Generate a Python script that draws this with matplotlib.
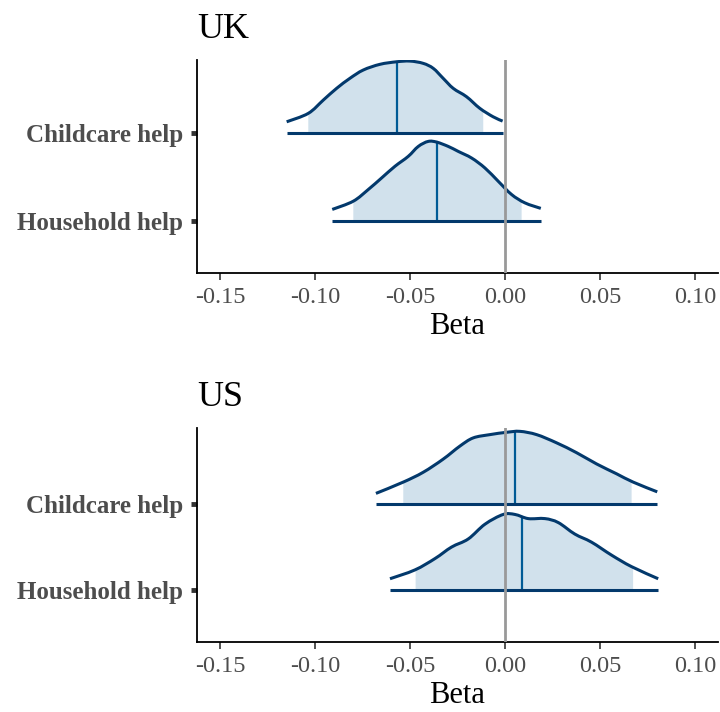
import numpy as np
import matplotlib.pyplot as plt
from matplotlib.path import Path
from matplotlib.patches import PathPatch

plt.rcParams['font.family'] = ['Liberation Serif', 'DejaVu Serif']

params = ["Household help", "Childcare help"]

# posterior density outlines (beta value, scaled density) per country / parameter
uk_child_x = [-0.1149, -0.1035, -0.0956, -0.0886, -0.0816, -0.0746, -0.0658, -0.0570, -0.0500,
              -0.0430, -0.0377, -0.0325, -0.0272, -0.0202, -0.0132, -0.0062, -0.0012]
uk_child_d = [0.128, 0.224, 0.375, 0.508, 0.622, 0.716, 0.781, 0.810, 0.818,
              0.792, 0.735, 0.622, 0.508, 0.413, 0.281, 0.185, 0.136]
uk_house_x = [-0.0909, -0.0798, -0.0719, -0.0649, -0.0579, -0.0509, -0.0456, -0.0404, -0.0359,
              -0.0298, -0.0246, -0.0175, -0.0105, -0.0035, 0.0035, 0.0105, 0.0189]
uk_house_d = [0.132, 0.226, 0.359, 0.490, 0.622, 0.735, 0.848, 0.905, 0.897,
              0.848, 0.792, 0.716, 0.603, 0.452, 0.302, 0.207, 0.144]
us_child_x = [-0.0679, -0.0535, -0.0430, -0.0325, -0.0237, -0.0167, -0.0079, 0.0009,
              0.0079, 0.0167, 0.0272, 0.0377, 0.0483, 0.0588, 0.0675, 0.0802]
us_child_d = [0.122, 0.253, 0.367, 0.519, 0.670, 0.765, 0.803, 0.830,
              0.841, 0.803, 0.708, 0.594, 0.463, 0.349, 0.253, 0.140]
us_house_x = [-0.0605, -0.0474, -0.0368, -0.0281, -0.0193, -0.0105, -0.0009, 0.0053,
              0.0123, 0.0211, 0.0281, 0.0368, 0.0456, 0.0562, 0.0667, 0.0807]
us_house_d = [0.133, 0.235, 0.367, 0.500, 0.594, 0.765, 0.878, 0.878,
              0.830, 0.830, 0.784, 0.651, 0.557, 0.406, 0.273, 0.133]

# medians and 90% intervals
uk_median = [-0.0359, -0.0570]
uk_ci = [(-0.0798, 0.0088), (-0.1035, -0.0114)]
us_median = [0.0091, 0.0053]
us_ci = [(-0.0470, 0.0675), (-0.0535, 0.0667)]

xticks = [-0.15, -0.10, -0.05, 0.00, 0.05, 0.10]

light = "#d1e1ec"
dark = "#03396c"
mid = "#005b96"
grey_text = "#4d4d4d"

fig = plt.figure(figsize=(7.2, 7.12), dpi=100)
ax_uk = fig.add_axes([0.2736, 0.6166, 0.7234, 0.2991])
ax_us = fig.add_axes([0.2736, 0.0983, 0.7234, 0.3006])


def smooth_path(xs, ys):
    # Catmull-Rom segments expressed as cubic Bezier curves through every point
    pts = np.column_stack([xs, ys])
    verts = [pts[0]]
    codes = [Path.MOVETO]
    for i in range(len(pts) - 1):
        p0 = pts[max(i - 1, 0)]
        p1 = pts[i]
        p2 = pts[i + 1]
        p3 = pts[min(i + 2, len(pts) - 1)]
        verts += [p1 + (p2 - p0) / 6, p2 - (p3 - p1) / 6, p2]
        codes += [Path.CURVE4] * 3
    return Path(verts, codes)


def draw_panel(ax, title, curves, medians, cis, ylim):
    for row, ((xs, ds), med, (lo, hi)) in enumerate(zip(curves, medians, cis)):
        xs = np.array(xs)
        ds = np.array(ds)
        # shaded interval under the smoothed outline
        inner = (xs > lo) & (xs < hi)
        fx = np.concatenate([[lo], xs[inner], [hi]])
        fd = np.interp(fx, xs, ds)
        top = smooth_path(fx, row + fd)
        verts = list(top.vertices) + [(hi, row), (lo, row), (lo, row)]
        codes = list(top.codes) + [Path.LINETO, Path.LINETO, Path.CLOSEPOLY]
        ax.add_patch(PathPatch(Path(verts, codes), facecolor=light, lw=0, zorder=1))
        ax.plot([med, med], [row, row + np.interp(med, xs, ds)], color=mid, lw=1.6, zorder=2)
        ax.add_patch(PathPatch(smooth_path(xs, row + ds), facecolor='none',
                               edgecolor=dark, lw=2.2, zorder=3))
        ax.plot([xs[0], xs[-1]], [row, row], color=dark, lw=2.2, zorder=3, solid_capstyle='butt')
    ax.axvline(0, color="#999999", lw=2.0, zorder=4)
    ax.set_xlim(-0.1621, 0.1121)
    ax.set_ylim(*ylim)
    ax.set_xticks(xticks)
    ax.set_xticklabels([f"{t:.2f}" for t in xticks], fontsize=17.5, color=grey_text)
    ax.set_yticks([0, 1])
    ax.set_yticklabels(params, fontsize=18, fontweight='bold', color=grey_text)
    ax.tick_params(axis='x', length=5, width=1.2, color="#333333", pad=5)
    ax.tick_params(axis='y', length=4, width=3.5, color="#333333", pad=6)
    ax.spines['top'].set_visible(False)
    ax.spines['right'].set_visible(False)
    ax.spines['left'].set_linewidth(1.3)
    ax.spines['bottom'].set_linewidth(1.3)
    ax.set_xlabel("Beta", fontsize=22, labelpad=3)
    ax.set_title(title, fontsize=26, loc='left', pad=16)


draw_panel(ax_uk, "UK", [(uk_house_x, uk_house_d), (uk_child_x, uk_child_d)],
           uk_median, uk_ci, (-0.59, 1.83))
draw_panel(ax_us, "US", [(us_house_x, us_house_d), (us_child_x, us_child_d)],
           us_median, us_ci, (-0.6, 1.88))

fig.savefig("out.png", dpi=100)
